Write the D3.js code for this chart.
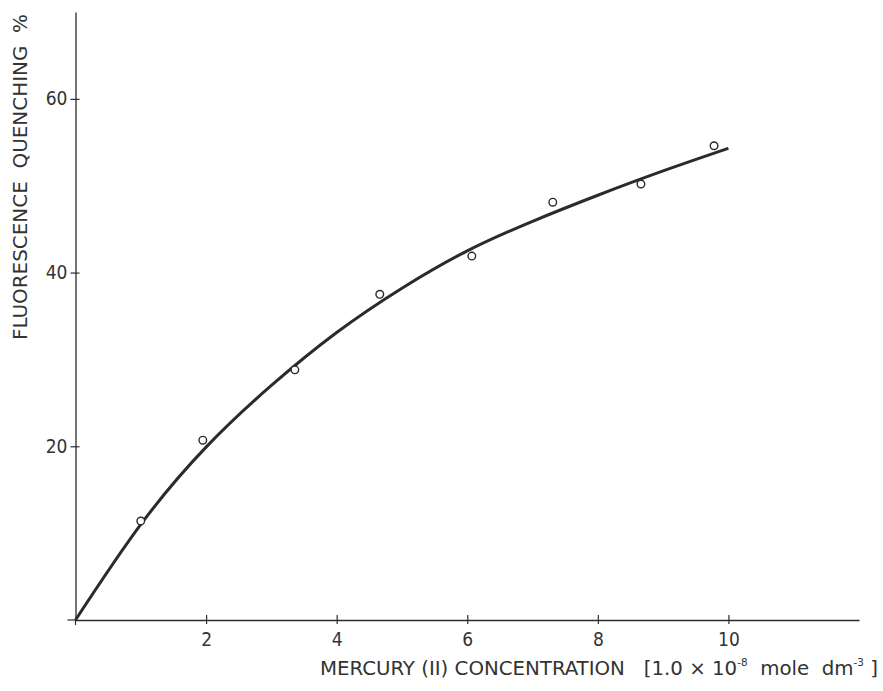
<!DOCTYPE html>
<html><head><meta charset="utf-8">
<script src="https://cdn.jsdelivr.net/npm/d3@7"></script>
<style>body{margin:0;background:#fff}svg{display:block}text{white-space:pre}</style>
</head><body>
<svg id="c" width="883" height="691"></svg>
<script>
// Measured points (Hg(II) concentration, % quenching)
const pointX = [1.00, 1.95, 3.36, 4.66, 6.07, 7.31, 8.66, 9.78];
const pointY = [11.4, 20.7, 28.8, 37.5, 41.9, 48.1, 50.2, 54.6];
// Fitted smooth curve
const curveX = [0, 1, 2, 3, 4, 5, 6, 7, 8, 9, 10];
const curveY = [0, 11.0, 19.9, 27.0, 33.1, 38.2, 42.5, 45.9, 48.9, 51.7, 54.3];
const xTicks = [2, 4, 6, 8, 10];
const yTicks = [20, 40, 60];
const xDomain = [0, 12];
const yDomain = [0, 70];

const svg = d3.select("#c");
const ink = "#2b2b2b";
const font = "'DejaVu Sans Condensed', 'DejaVu Sans', sans-serif";
const x = d3.scaleLinear().domain(xDomain).range([75.5, 859]);
const y = d3.scaleLinear().domain(yDomain).range([620, 12]);

// axes
const xAxis = svg.append("g").attr("transform", `translate(0,${y(0)})`)
  .call(d3.axisBottom(x).tickValues(xTicks).tickSize(4).tickSizeOuter(0).tickPadding(9));
const yAxis = svg.append("g").attr("transform", `translate(${x(0)},0)`)
  .call(d3.axisLeft(y).tickValues(yTicks).tickSize(4).tickSizeOuter(0).tickPadding(4));
[xAxis, yAxis].forEach(g => {
  g.select(".domain").attr("stroke", ink).attr("stroke-width", 1.3);
  g.selectAll(".tick line").attr("stroke", ink).attr("stroke-width", 1.2);
  g.selectAll(".tick text").attr("fill", "#333").attr("font-size", 19).attr("font-family", font);
});
// ticks crossing the axis
xAxis.selectAll(".tick line").attr("y1", -5).attr("y2", 4);
yAxis.selectAll(".tick line").attr("x1", -5).attr("x2", 4);
// small tick at origin
svg.append("line").attr("x1", x(0)).attr("x2", x(0)).attr("y1", y(0)).attr("y2", y(0)+5)
  .attr("stroke", ink).attr("stroke-width", 1.2);
svg.append("line").attr("x1", x(0)-8).attr("x2", x(0)).attr("y1", y(0)).attr("y2", y(0))
  .attr("stroke", ink).attr("stroke-width", 1.2);

// curve
const curveData = curveX.map((v, i) => [v, curveY[i]]);
svg.append("path").datum(curveData)
  .attr("d", d3.line().x(d => x(d[0])).y(d => y(d[1])).curve(d3.curveNatural))
  .attr("fill", "none").attr("stroke", ink).attr("stroke-width", 3);

// points
svg.selectAll("circle.pt").data(pointX.map((v, i) => [v, pointY[i]])).enter()
  .append("circle").attr("class", "pt")
  .attr("cx", d => x(d[0])).attr("cy", d => y(d[1])).attr("r", 3.8)
  .attr("fill", "#fff").attr("stroke", ink).attr("stroke-width", 1.4);

// y title
svg.append("text")
  .attr("transform", "translate(27,177) rotate(-90)")
  .attr("text-anchor", "middle").attr("font-family", font).attr("font-size", 19)
  .attr("fill", "#333").attr("textLength", 326).attr("lengthAdjust", "spacingAndGlyphs")
  .text("FLUORESCENCE  QUENCHING  %");

// x title
const xt = svg.append("text").attr("x", 320).attr("y", 675)
  .attr("font-family", font).attr("font-size", 19).attr("fill", "#333")
  .attr("textLength", 558).attr("lengthAdjust", "spacingAndGlyphs");
xt.append("tspan").text("MERCURY (II) CONCENTRATION   [1.0 × 10");
xt.append("tspan").attr("dy", -9).attr("font-size", 10).text("-8");
xt.append("tspan").attr("dy", 9).text("  mole  dm");
xt.append("tspan").attr("dy", -9).attr("font-size", 10).text("-3");
xt.append("tspan").attr("dy", 9).text(" ]");
</script>
</body></html>
